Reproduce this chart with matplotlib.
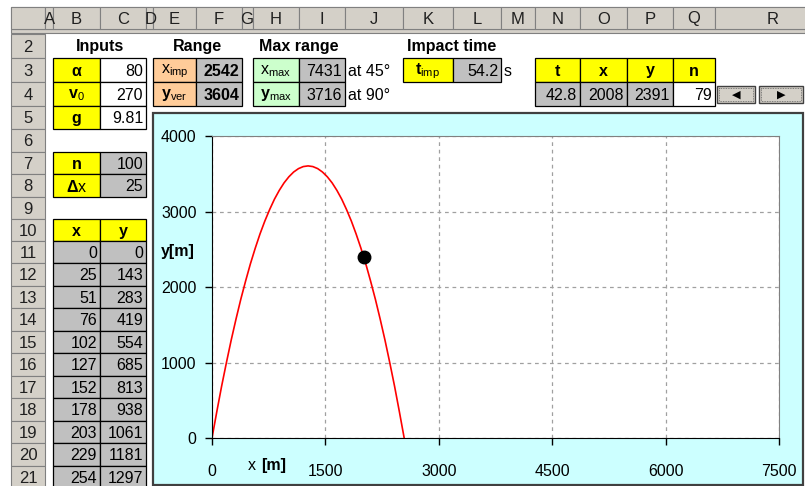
import numpy as np
import matplotlib
matplotlib.use("Agg")
import matplotlib.pyplot as plt
from matplotlib.patches import Rectangle

plt.rcParams['font.family'] = ['Liberation Sans', 'DejaVu Sans']
plt.rcParams['mathtext.fontset'] = 'custom'
plt.rcParams['mathtext.rm'] = 'Liberation Sans'
plt.rcParams['mathtext.bf'] = 'Liberation Sans:bold'

# ---- values ----
alpha, v0, g = 80, 270, 9.81
n_steps, dx = 100, 25
x_imp, y_ver = 2542, 3604
x_max, y_max = 7431, 3716
t_imp = 54.2
t_cur, x_cur, y_cur, n_cur = 42.8, 2008, 2391, 79

table_x = [0, 25, 51, 76, 102, 127, 152, 178, 203, 229, 254]
table_y = [0, 143, 283, 419, 554, 685, 813, 938, 1061, 1181, 1297]

# trajectory as drawn in the chart
path_x = [0, 64, 127, 191, 254, 318, 381, 445, 508, 572, 635, 699, 763, 826,
          890, 953, 1017, 1080, 1144, 1207, 1271, 1334, 1398, 1461, 1525, 1589,
          1652, 1716, 1779, 1843, 1906, 1970, 2034, 2097, 2161, 2224, 2288,
          2351, 2415, 2478, 2542]
path_y = [0, 351, 685, 1000, 1297, 1577, 1838, 2081, 2307, 2514, 2703, 2874,
          3027, 3163, 3280, 3379, 3460, 3523, 3568, 3595, 3604, 3595, 3568,
          3523, 3460, 3379, 3280, 3163, 3027, 2874, 2703, 2514, 2307, 2081,
          1838, 1577, 1297, 1000, 685, 351, 0]

x_ticks = [0, 1500, 3000, 4500, 6000, 7500]
y_ticks = [0, 1000, 2000, 3000, 4000]

# ---- sheet geometry (pixels) ----
cols = {'A': (45, 53), 'B': (53, 100), 'C': (100, 146), 'D': (146, 153),
        'E': (153, 196), 'F': (196, 242), 'G': (242, 253), 'H': (253, 299),
        'I': (299, 345), 'J': (345, 403), 'K': (403, 453), 'L': (453, 501),
        'M': (501, 535), 'N': (535, 580), 'O': (580, 627), 'P': (627, 673),
        'Q': (673, 715), 'R': (715, 830)}
rows = {2: 34, 3: 58, 4: 82, 5: 106, 6: 129, 7: 152, 8: 174, 9: 197, 10: 219,
        11: 241, 12: 263, 13: 286, 14: 308, 15: 331, 16: 353, 17: 376,
        18: 398, 19: 421, 20: 443, 21: 466, 22: 489}

FS = 11.5
YEL, GRY, ORA, GRN, CYAN, HDR = '#FFFF00', '#C0C0C0', '#FFCC99', '#CCFFCC', '#CCFFFF', '#D4D0C8'

fig = plt.figure(figsize=(8.05, 4.86), dpi=100)
sheet = fig.add_axes([0, 0, 1, 1])
sheet.set_xlim(0, 805)
sheet.set_ylim(486, 0)
sheet.axis('off')


def cell(col, row, text='', fc='none', bold=False, ha='center', border=True):
    x0, x1 = cols[col]
    y0, y1 = rows[row], rows[row + 1]
    if border or fc != 'none':
        sheet.add_patch(Rectangle((x0, y0), x1 - x0, y1 - y0, fc=fc,
                                  ec='black' if border else 'none', lw=0.9))
    tx = {'center': (x0 + x1) / 2, 'right': x1 - 3, 'left': x0 + 3}[ha]
    sheet.text(tx, (y0 + y1) / 2 + 1, text, ha=ha, va='center', fontsize=FS,
               fontweight='bold' if bold else 'normal')


# column headers
sheet.add_patch(Rectangle((11, 7), 794, 22, fc=HDR, ec='#808080', lw=0.8))
sheet.add_patch(Rectangle((11, 29), 794, 4, fc=HDR, ec='#808080', lw=0.8))
sheet.add_patch(Rectangle((11, 7), 34, 22, fc=HDR, ec='#808080', lw=0.8))
for name, (x0, x1) in cols.items():
    r = Rectangle((x0, 7), x1 - x0, 22, fc=HDR, ec='#808080', lw=0.8)
    sheet.add_patch(r)
    t = sheet.text((x0 + x1) / 2 if x1 - x0 > 15 else x0 + 5,
                   19, name, ha='center', va='center', fontsize=12, color='#202020')
    t.set_clip_path(r)

# row headers
for r in range(2, 22):
    y0, y1 = rows[r], rows[r + 1]
    sheet.add_patch(Rectangle((11, y0), 34, y1 - y0, fc=HDR, ec='#808080', lw=0.8))
    sheet.text(28, (y0 + y1) / 2 + 1, str(r), ha='center', va='center',
               fontsize=12, color='#202020')

# section titles
for c0, c1, title in [('B', 'C', 'Inputs'), ('E', 'F', 'Range'),
                      ('H', 'I', 'Max range'), ('K', 'L', 'Impact time')]:
    xc = (cols[c0][0] + cols[c1][1]) / 2
    sheet.text(xc, (rows[2] + rows[3]) / 2 + 1, title, ha='center', va='center',
               fontsize=FS, fontweight='bold')

# inputs
cell('B', 3, r'$\mathbf{\alpha}$', YEL, bold=True)
cell('C', 3, str(alpha), 'white', ha='right')
cell('B', 4, r'v$_{\rm 0}$', YEL, bold=True)
cell('C', 4, str(v0), 'white', ha='right')
cell('B', 5, 'g', YEL, bold=True)
cell('C', 5, str(g), 'white', ha='right')
cell('B', 7, 'n', YEL, bold=True)
cell('C', 7, str(n_steps), GRY, ha='right')
cell('B', 8, '', YEL)
sheet.text((cols['B'][0] + cols['B'][1]) / 2, (rows[8] + rows[9]) / 2 + 1, r'$\mathbf{\Delta}$x',
           ha='center', va='center', fontsize=FS)
cell('C', 8, str(dx), GRY, ha='right')

# range / max range / impact time
cell('E', 3, r'x$_{\rm imp}$', ORA)
cell('F', 3, str(x_imp), GRY, bold=True, ha='right')
cell('E', 4, r'y$_{\rm ver}$', ORA, bold=True)
cell('F', 4, str(y_ver), GRY, bold=True, ha='right')
cell('H', 3, r'x$_{\rm max}$', GRN)
cell('I', 3, str(x_max), GRY, ha='right')
cell('H', 4, r'y$_{\rm max}$', GRN, bold=True)
cell('I', 4, str(y_max), GRY, ha='right')
cell('J', 3, 'at 45°', border=False, ha='left')
cell('J', 4, 'at 90°', border=False, ha='left')
cell('K', 3, r't$_{\rm imp}$', YEL, bold=True)
cell('L', 3, str(t_imp), GRY, ha='right')
cell('M', 3, 's', border=False, ha='left')

# current point
for c, lab, val, fc in [('N', 't', t_cur, GRY), ('O', 'x', x_cur, GRY),
                        ('P', 'y', y_cur, GRY), ('Q', 'n', n_cur, 'white')]:
    cell(c, 3, lab, YEL, bold=True)
    cell(c, 4, str(val), fc, ha='right')

# spin buttons
for bx0, bx1, sym in [(717, 755, '◀'), (759, 803, '▶')]:
    sheet.add_patch(Rectangle((bx0, 86), bx1 - bx0, 17, fc=HDR, ec='#404040', lw=1.0))
    sheet.add_patch(Rectangle((bx0 + 2, 88), bx1 - bx0 - 4, 13, fc='none',
                              ec='#606060', lw=0.6, ls=(0, (1, 1))))
    sheet.text((bx0 + bx1) / 2, 95, sym, ha='center', va='center', fontsize=8,
               family='DejaVu Sans')

# x/y table
cell('B', 10, 'x', YEL, bold=True)
cell('C', 10, 'y', YEL, bold=True)
for i, (xv, yv) in enumerate(zip(table_x, table_y)):
    cell('B', 11 + i, str(xv), GRY, ha='right')
    cell('C', 11 + i, str(yv), GRY, ha='right')

# chart area
sheet.add_patch(Rectangle((153, 113), 650, 372, fc=CYAN, ec='#404040', lw=1.6))
sheet.text(178, 251, 'y[m]', ha='center', va='center', fontsize=FS, fontweight='bold')
sheet.text(252, 465, 'x', ha='center', va='center', fontsize=FS)
sheet.text(261, 465, '[m]', ha='left', va='center', fontsize=FS, fontweight='bold')

ax = fig.add_axes([212 / 805, (486 - 438) / 486, (779 - 212) / 805, (438 - 136) / 486])
ax.set_facecolor('white')
ax.plot(path_x, path_y, color='red', lw=1.2)
ax.plot([x_cur], [y_cur], 'o', color='black', ms=9)
ax.set_xlim(0, 7500)
ax.set_ylim(0, 4000)
ax.set_xticks(x_ticks)
ax.set_yticks(y_ticks)
ax.grid(True, color='#A0A0A0', ls=(0, (3, 3)), lw=0.9)
ax.tick_params(axis='both', direction='out', length=5, width=1, labelsize=FS)
ax.tick_params(axis='x', pad=14)
ax.tick_params(axis='y', pad=6)
for s in ['left', 'bottom']:
    ax.spines[s].set_color('black')
for s in ['top', 'right']:
    ax.spines[s].set_color('#808080')

fig.savefig('out.png', dpi=100)
